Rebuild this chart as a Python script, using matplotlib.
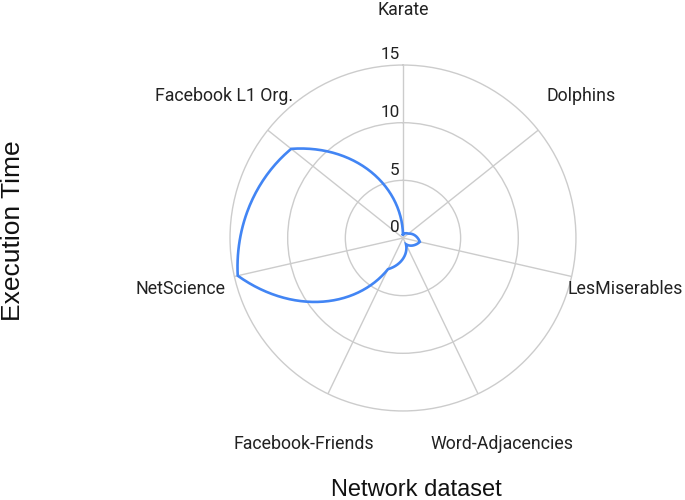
import matplotlib
matplotlib.use("Agg")
import matplotlib.pyplot as plt
import numpy as np

plt.rcParams['font.family'] = ['Roboto', 'DejaVu Sans']

# datasets, clockwise from the top
datasets = ['Karate', 'Dolphins', 'LesMiserables', 'Word-Adjacencies',
            'Facebook-Friends', 'NetScience', 'Facebook L1 Org.']
exec_time = [0.3, 0.6, 1.5, 0.6, 3.0, 14.7, 12.4]
r_ticks = [0, 5, 10, 15]

grid_col = '#cccccc'
line_col = '#4285f4'

fig = plt.figure(figsize=(6.85, 5), dpi=100)
ax = fig.add_axes([0.3358, 0.178, 0.505, 0.692], projection='polar')
ax.set_theta_zero_location('N')
ax.set_theta_direction(-1)
ax.set_ylim(0, 15)

theta = np.linspace(0, 2 * np.pi, len(datasets), endpoint=False)

# grid: rings + spokes
ax.set_rgrids([5, 10], labels=[])
ax.set_thetagrids(np.degrees(theta), labels=[])
ax.grid(True, color=grid_col, linewidth=1)
ax.spines['polar'].set_color(grid_col)
ax.spines['polar'].set_linewidth(1)
ax.tick_params(length=0)

# the series, drawn with curved polar segments
th = np.append(theta, theta[0] + 2 * np.pi)
vals = np.append(exec_time, exec_time[0])
ln, = ax.plot(th, vals, color=line_col, linewidth=1.9, solid_joinstyle='miter')
ln.get_path()._interpolation_steps = 60

# radial tick labels, left of the top spoke
for r in r_ticks:
    ax.annotate(str(r), xy=(0, r), xytext=(-2.5, 2), textcoords='offset points',
                ha='right', va='bottom', fontsize=12.3, color='#222222')

# category labels outside the ring
for t, name in zip(theta, datasets):
    ax.text(t, 19.8, name, ha='center', va='center', fontsize=12.8,
            color='#222222', clip_on=False)

fig.text(0.0185, 0.539, 'Execution Time', rotation=90, ha='center', va='center',
         fontsize=19, color='#111111', family='Liberation Sans')
fig.text(0.608, 0.019, 'Network dataset', ha='center', va='center',
         fontsize=17, color='#111111', family='Liberation Sans')

fig.savefig('out.png', dpi=100)
